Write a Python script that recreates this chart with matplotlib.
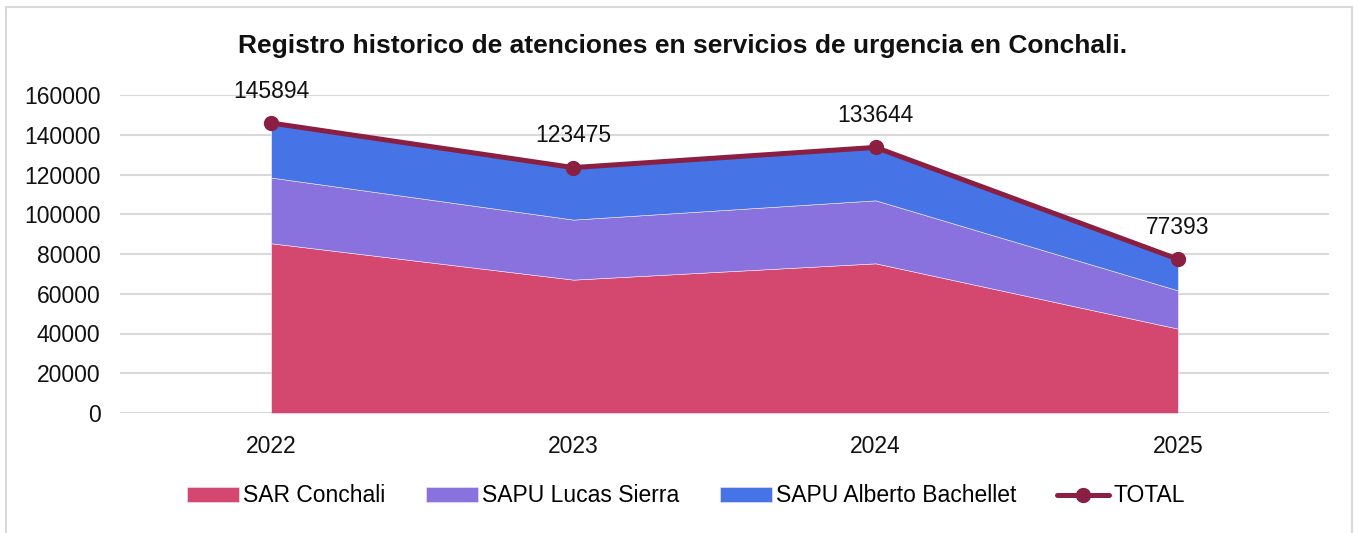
import matplotlib
matplotlib.use("Agg")
import matplotlib.pyplot as plt
from matplotlib.patches import Rectangle

plt.rcParams['font.family'] = ['Liberation Sans', 'DejaVu Sans']

years = ["2022", "2023", "2024", "2025"]
sar_conchali = [85400, 67100, 75300, 42450]
sapu_lucas = [33060, 30200, 31700, 19250]
sapu_alberto = [27434, 26175, 26644, 15693]
total = [145894, 123475, 133644, 77393]

c_sar = "#D44870"
c_lucas = "#8971DE"
c_alberto = "#4674E6"
c_total = "#8B1F41"

fig = plt.figure(figsize=(13.59, 5.33), dpi=100)
ax = fig.add_axes([120 / 1359, 1 - 413 / 533, (1329 - 120) / 1359, (413 - 95) / 533])

x = list(range(len(years)))
ax.stackplot(x, sar_conchali, sapu_lucas, sapu_alberto,
             colors=[c_sar, c_lucas, c_alberto],
             labels=["SAR Conchali", "SAPU Lucas Sierra", "SAPU Alberto Bachellet"],
             edgecolor="#f0e8f8", linewidth=0.4, zorder=2)
ax.plot(x, total, color=c_total, lw=3.6, marker="o", markersize=10,
        label="TOTAL", zorder=3, solid_capstyle="round")

# etiquetas de datos sobre el total
for xi, v in zip(x, total):
    ax.annotate(str(v), (xi, v), xytext=(0, 23), textcoords="offset points",
                ha="center", va="center", fontsize=16.5, color="#111111")

ax.set_xlim(-0.5, 3.5)
ax.set_ylim(0, 160000)
ax.set_yticks(range(0, 160001, 20000))
ax.set_xticks(x)
ax.set_xticklabels(years)
ax.tick_params(axis="both", length=0, labelsize=16.5, colors="#111111")
ax.tick_params(axis="x", pad=16)
ax.tick_params(axis="y", pad=14)
ax.yaxis.grid(True, color="#d9d9d9", lw=1.5, zorder=0)
ax.set_axisbelow(True)
for s in ax.spines.values():
    s.set_visible(False)

fig.text(683 / 1359, 1 - 46 / 533,
         "Registro historico de atenciones en servicios de urgencia en Conchali.",
         ha="center", va="center", fontsize=19, fontweight="bold", color="#111111")

fig.legend(loc="center", bbox_to_anchor=(686 / 1359, 1 - 496 / 533), ncol=4,
           frameon=False, fontsize=16.5, handlelength=2.27, handleheight=0.62,
           handletextpad=0.18, columnspacing=1.77)

# borde gris del grafico
fig.patches.append(Rectangle((6 / 1359, -0.05), 1346 / 1359, 1.05 - 7 / 533,
                             transform=fig.transFigure, fill=False,
                             edgecolor="#d9d9d9", lw=1.5))

fig.savefig("out.png", dpi=100)
